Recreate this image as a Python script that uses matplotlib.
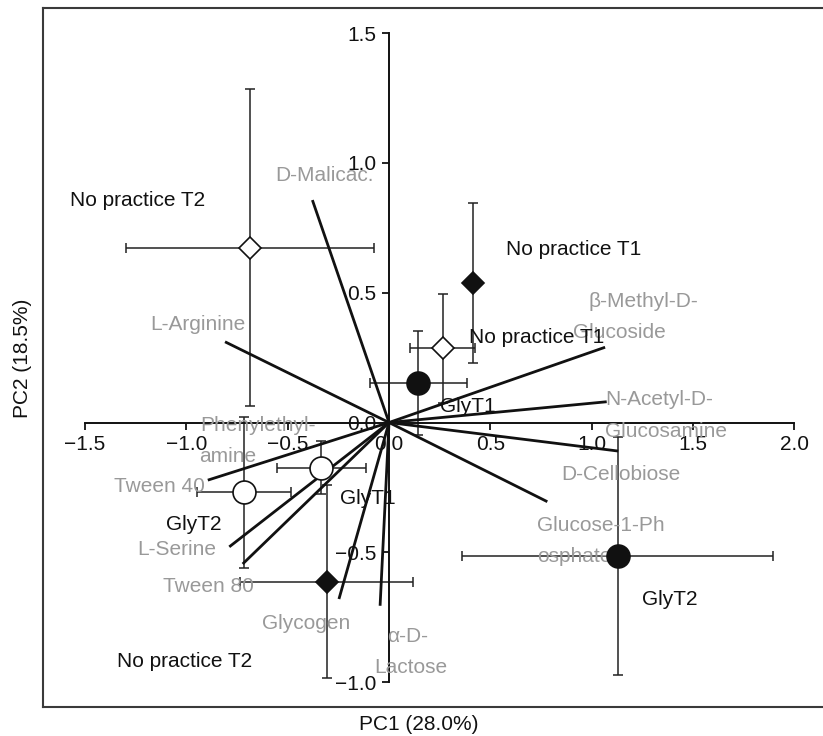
import matplotlib
matplotlib.use("Agg")
import matplotlib.pyplot as plt
from matplotlib.ticker import FuncFormatter, FixedLocator

plt.rcParams['font.family'] = ['Liberation Sans', 'DejaVu Sans']

# ---- treatment scores (mean ± error) ----
pt_x    = [-0.686, 0.416, 0.264, 0.145, 1.128, -0.715, -0.335, -0.307]
pt_y    = [0.674, 0.536, 0.286, 0.151, -0.514, -0.269, -0.174, -0.613]
pt_xerr = [0.611, 0.0, 0.161, 0.238, 0.766, 0.233, 0.220, 0.427]
pt_yerr = [0.612, 0.308, 0.210, 0.200, 0.460, 0.292, 0.101, 0.372]
pt_marker = ['D', 'D', 'D', 'o', 'o', 'o', 'o', 'D']
pt_filled = [False, True, False, True, True, False, False, True]

# ---- substrate loading vectors (end points) ----
vec_x = [-0.378, -0.809, 1.066, 1.074, 1.131, 0.781, -0.044, -0.247, -0.722, -0.788, -0.894]
vec_y = [0.857, 0.311, 0.290, 0.080, -0.110, -0.305, -0.706, -0.680, -0.545, -0.479, -0.222]

# ---- substrate labels (grey) ----
sub_text = ["D-Malicac.", "L-Arginine", "\u03b2-Methyl-D-", "Glucoside",
            "N-Acetyl-D-", "Glucosamine", "D-Cellobiose", "Glucose-1-Ph",
            "osphate", "\u03b1-D-", "Lactose", "Glycogen", "Tween 80",
            "L-Serine", "Tween 40", "Phenylethyl-", "amine"]
sub_x = [-0.562, -1.179, 0.982, 0.908, 1.066, 1.066, 0.852, 0.729,
         0.729, -0.011, -0.074, -0.628, -1.113, -1.242, -1.357, -0.929, -0.936]
sub_y = [0.951, 0.376, 0.468, 0.346, 0.087, -0.033, -0.202, -0.395,
         -0.517, -0.825, -0.945, -0.776, -0.633, -0.491, -0.247, -0.010, -0.129]

# ---- treatment labels (black) ----
trt_text = ["No practice T2", "No practice T1", "No practice T1", "GlyT1",
            "GlyT1", "GlyT2", "GlyT2", "No practice T2"]
trt_x = [-1.574, 0.577, 0.396, 0.252, -0.242, -1.100, 1.247, -1.343]
trt_y = [0.857, 0.665, 0.328, 0.061, -0.292, -0.391, -0.681, -0.919]

xticks = [-1.5, -1.0, -0.5, 0.0, 0.5, 1.0, 1.5, 2.0]
yticks = [-1.0, -0.5, 0.0, 0.5, 1.0, 1.5]

fig = plt.figure(figsize=(8.23, 7.36), dpi=100)
ax = fig.add_axes([43/823, 29/736, 1 - 43/823, 699/736])
ax.set_xlim(-1.707, 2.141)
ax.set_ylim(-1.096, 1.597)

FS = 15

def fmt(v, pos):
    return ("%.1f" % v).replace("-", "\u2212")

# axes through origin
for s in ['top', 'right']:
    ax.spines[s].set_visible(False)
ax.spines['left'].set_position(('data', 0))
ax.spines['bottom'].set_position(('data', 0))
ax.spines['left'].set_bounds(-1.0, 1.5)
ax.spines['bottom'].set_bounds(-1.5, 2.0)
for s in ['left', 'bottom']:
    ax.spines[s].set_linewidth(1.4)
    ax.spines[s].set_color('#111111')
    ax.spines[s].set_zorder(2.5)
ax.xaxis.set_major_locator(FixedLocator(xticks))
ax.yaxis.set_major_locator(FixedLocator(yticks))
ax.xaxis.set_major_formatter(FuncFormatter(fmt))
ax.yaxis.set_major_formatter(FuncFormatter(fmt))
ax.tick_params(axis='both', direction='out', length=5, width=1.3,
               labelsize=FS, colors='#111111', pad=4)

# outer frame (left, top, bottom)
frame_kw = dict(transform=ax.transAxes, clip_on=False, color='#3a3a3a', lw=1.5, zorder=1)
ax.plot([0, 0], [0, 1], **frame_kw)
ax.plot([0, 1], [1, 1], **frame_kw)
ax.plot([0, 1], [0, 0], **frame_kw)

# vectors
for vx, vy in zip(vec_x, vec_y):
    ax.plot([0, vx], [0, vy], color='#111111', lw=2.0, solid_capstyle='butt', zorder=3)

# error bars
ax.errorbar(pt_x, pt_y, xerr=pt_xerr, yerr=pt_yerr, fmt='none',
            ecolor='#222222', elinewidth=1.1, capsize=3.5, capthick=1.1, zorder=2)

# labels
for t, x, y in zip(sub_text, sub_x, sub_y):
    ax.text(x, y, t, color='#999999', fontsize=FS, ha='left', va='center', zorder=3.6)
for t, x, y in zip(trt_text, trt_x, trt_y):
    ax.text(x, y, t, color='#111111', fontsize=FS, ha='left', va='center', zorder=3.6)

# markers
for x, y, m, f in zip(pt_x, pt_y, pt_marker, pt_filled):
    ms = 11.5 if m == 'D' else 16.5
    ax.plot([x], [y], marker=m, ms=ms, mfc='#111111' if f else 'white',
            mec='#111111', mew=1.2, linestyle='none', zorder=5)

fig.text(419/823, 1 - 725/736, "PC1 (28.0%)", fontsize=FS, ha='center', va='center', color='#111111')
fig.text(23/823, 1 - 358/736, "PC2 (18.5%)", fontsize=FS, ha='center', va='center',
         rotation=90, color='#111111')

fig.savefig("out.png", dpi=100)
